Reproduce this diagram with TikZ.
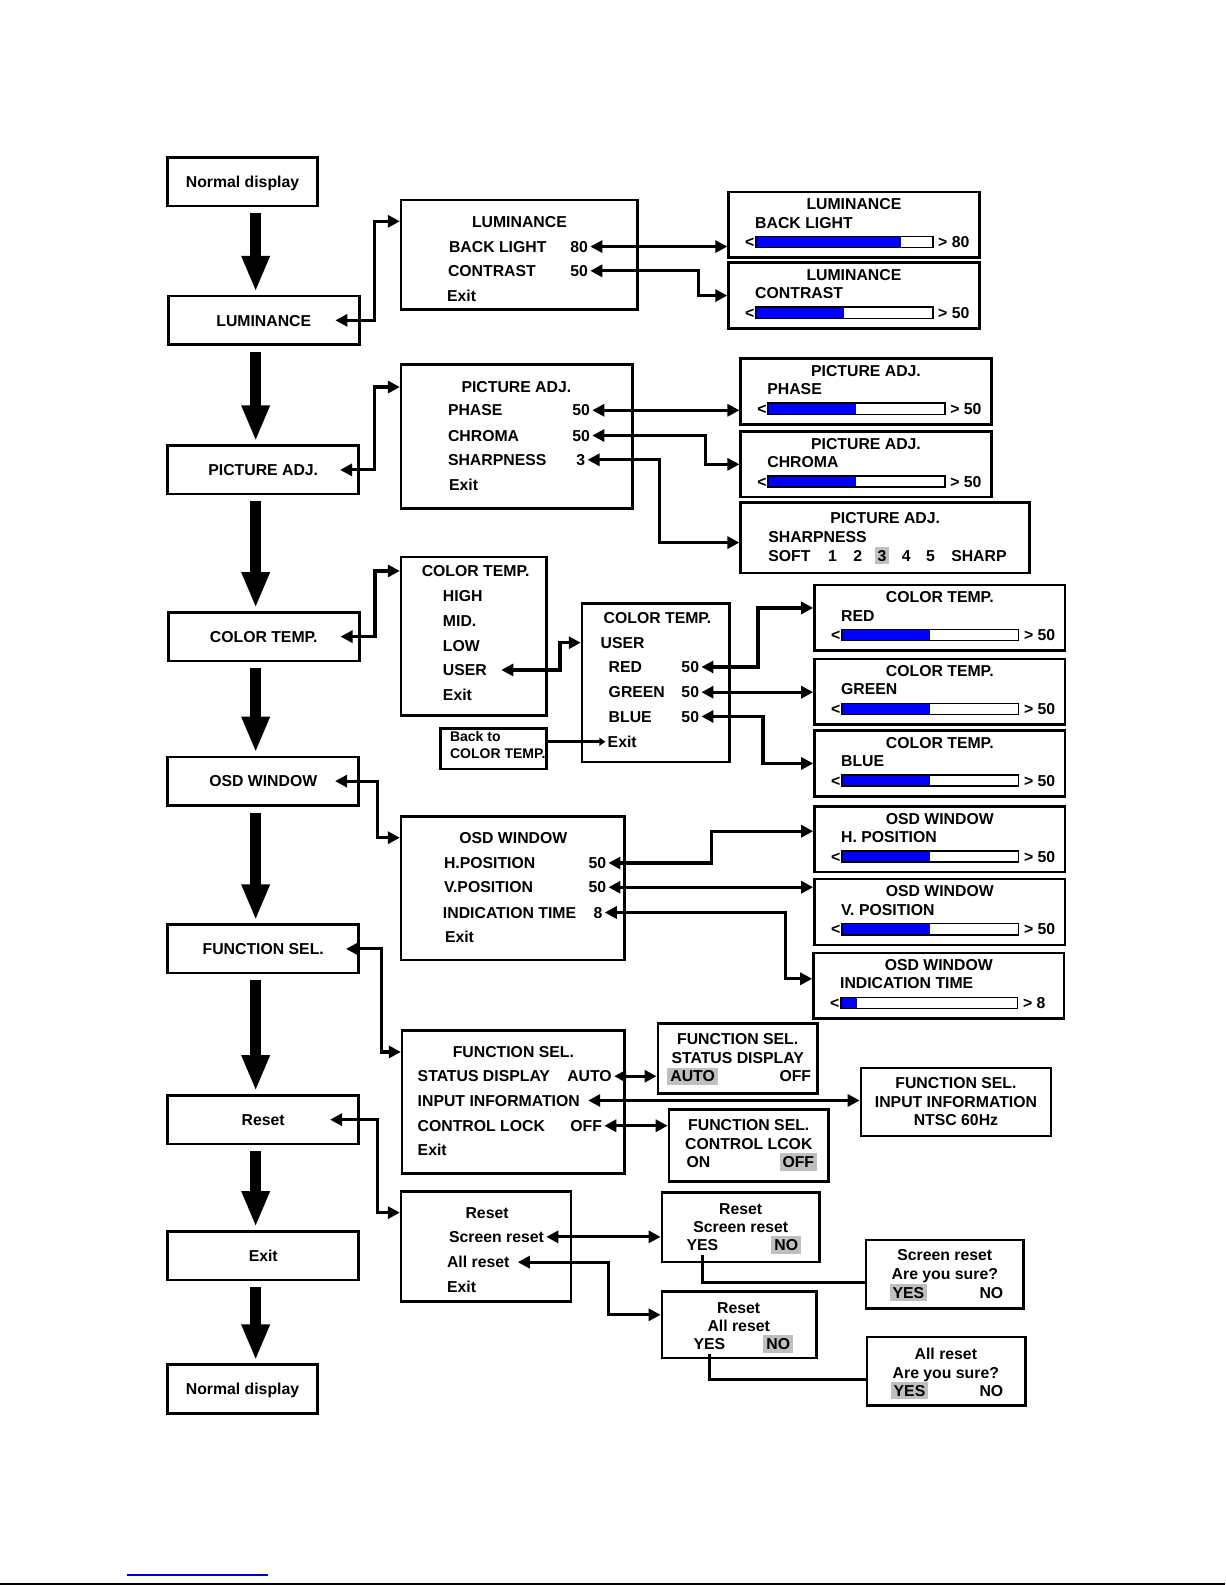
\documentclass[tikz,border=0pt]{standalone}
\usepackage{fontspec}
\setmainfont{Liberation Sans}
\usetikzlibrary{arrows.meta,positioning,fit}

\begin{document}
\begin{tikzpicture}[
    x=0.50525pt, y=-0.50525pt,
    every node/.style={font=\fontsize{7.9}{9}\selectfont\bfseries, inner sep=0pt, text height=5.7pt, text depth=0pt},
    mainbox/.style={rectangle, draw, line width=1.3pt, minimum width=95.5pt, minimum height=24.25pt},
    menubox/.style={rectangle, draw, line width=1.3pt},
    item/.style={anchor=west, inner xsep=1pt},
    hilite/.style={fill=black!25, inner xsep=1.5pt, inner ysep=1.5pt},
    small/.style={font=\fontsize{7}{8}\selectfont\bfseries, text height=5pt},
    dbl/.style={{Triangle[width=6pt,length=6pt]}-{Triangle[width=6pt,length=6pt]}, line width=1.6pt},
    link/.style={line width=1.6pt},
    bigarrow/.style={-{Triangle[width=13pt,length=18pt]}, line width=5.5pt},
    bar/.style={line width=0.8pt}
]
    \useasboundingbox (0,0) rectangle (1212.3,1568.5);

    % Main menu column
    \node[mainbox, minimum width=74.8pt] (mnorm) at (240,180) {Normal display};
    \node[mainbox] (mlum) at (261,317) {LUMINANCE};
    \node[mainbox] (mpic) at (260.5,465) {PICTURE ADJ.};
    \node[mainbox] (mcol) at (261,630) {COLOR TEMP.};
    \node[mainbox] (mosd) at (260.5,773) {OSD WINDOW};
    \node[mainbox] (mfun) at (260.5,939) {FUNCTION SEL.};
    \node[mainbox] (mrst) at (260.5,1108) {Reset};
    \node[mainbox] (mexit) at (260.5,1242.5) {Exit};
    \node[mainbox, minimum width=74.8pt] (mend) at (240,1374.5) {Normal display};

    \coordinate (spine) at (253,0);
    \foreach \a/\b in {mnorm/mlum, mlum/mpic, mpic/mcol, mcol/mosd, mosd/mfun, mfun/mrst, mrst/mexit, mexit/mend}
        \draw[bigarrow, shorten <=3pt, shorten >=1.5pt] (spine |- \a.south) -- (spine |- \b.north);

    % Slider windows
    \foreach \n/\bx/\by/\ttl/\lab/\fr/\val in {
        ls1/721/190/LUMINANCE/BACK LIGHT/0.82/80,
        ls2/721/260/LUMINANCE/CONTRAST/0.5/50,
        ps1/733/355/PICTURE ADJ./PHASE/0.5/50,
        ps2/733/427/PICTURE ADJ./CHROMA/0.5/50,
        cs1/806/579/COLOR TEMP./RED/0.5/50,
        cs2/806/652/COLOR TEMP./GREEN/0.5/50,
        cs3/806/723/COLOR TEMP./BLUE/0.5/50,
        os1/806/798/OSD WINDOW/H. POSITION/0.5/50,
        os2/806/870/OSD WINDOW/V. POSITION/0.5/50,
        os3/805/943/OSD WINDOW/INDICATION TIME/0.09/8}{
        \node[menubox, fit={(\bx,\by) (\bx+248,\by+65)}] (\n) {};
        \node (\n-t) at (\bx+124,\by+12) {\ttl};
        \node[item] (\n-l) at (\bx+24,\by+30) {\lab};
        \fill[blue] (\bx+27,\by+44) rectangle (\bx+27+175*\fr,\by+55);
        \draw[bar] (\bx+27,\by+44) rectangle (\bx+202,\by+55);
        \node[anchor=east] (\n-lt) at (\bx+26,\by+49.5) {<};
        \node[item] (\n-gt) at (\bx+205,\by+49.5) {> \val};
    }

    % LUMINANCE
    \node[menubox, fit={(397,198) (631,306)}] (lum) {};
    \node (lumt) at (514,219) {LUMINANCE};
    \node[item] (lumbl) at (442,244) {BACK LIGHT};
    \node[item] (lumblv) at (562,244) {80};
    \node[item] (lumct) at (441,268) {CONTRAST};
    \node[item] (lumctv) at (562,268) {50};
    \node[item] (lumex) at (440,293) {Exit};
    \draw[dbl] ([xshift=-12.6pt]mlum.east) -- ++(39,0) |- (lum.west |- lumt);
    \draw[dbl] (lumblv.east) -- (ls1.west |- lumblv.east);
    \draw[dbl] (lumctv.east) -- ++(107,0) |- (ls2.west);

    % PICTURE ADJ.
    \node[menubox, fit={(397,361) (626,503)}] (pic) {};
    \node (pict) at (511,383) {PICTURE ADJ.};
    \node[item] (picph) at (441,406) {PHASE};
    \node[item] (picphv) at (564,406) {50};
    \node[item] (picch) at (441,431) {CHROMA};
    \node[item] (picchv) at (564,431) {50};
    \node[item] (picsh) at (441,455) {SHARPNESS};
    \node[item] (picshv) at (568,455) {3};
    \node[item] (picex) at (442,480) {Exit};

    \node[menubox, fit={(733,497) (1019,567)}] (ps3) {};
    \node (ps3-t) at (876,512) {PICTURE ADJ.};
    \node[item] (ps3-l) at (758,531) {SHARPNESS};
    \node[item] (ps3-soft) at (758,550) {SOFT};
    \node[item] (ps3-1) at (817,550) {1};
    \node[item] (ps3-2) at (842,550) {2};
    \node[item, hilite] (ps3-3) at (865,550) {3};
    \node[item] (ps3-4) at (890,550) {4};
    \node[item] (ps3-5) at (914,550) {5};
    \node[item] (ps3-sharp) at (939,550) {SHARP};

    \draw[dbl] ([xshift=-10pt]mpic.east) -- ++(34,0) |- (pic.west |- pict);
    \draw[dbl] (picphv.east) -- (ps1.west |- picphv.east);
    \draw[dbl] (picchv.east) -- ++(112,0) |- (ps2.west);
    \draw[dbl] (picshv.east) -- ++(71,0) |- ([yshift=-2.5pt]ps3.west);

    % COLOR TEMP.
    \node[menubox, fit={(397,551) (541,708)}] (col) {};
    \node[item] (colt) at (415,565) {COLOR TEMP.};
    \node[item] (colhi) at (436,590) {HIGH};
    \node[item] (colmi) at (436,614) {MID.};
    \node[item] (collo) at (436,639) {LOW};
    \node[item] (colus) at (436,663) {USER};
    \node[item] (colex) at (436,688) {Exit};

    \node[menubox, fit={(576,597) (722,754)}] (usr) {};
    \node[item] (usrt) at (595,611) {COLOR TEMP.};
    \node[item] (usrus) at (592,636) {USER};
    \node[item] (usrrd) at (600,660) {RED};
    \node[item] (usrrdv) at (672,660) {50};
    \node[item] (usrgr) at (600,685) {GREEN};
    \node[item] (usrgrv) at (672,685) {50};
    \node[item] (usrbl) at (600,709) {BLUE};
    \node[item] (usrblv) at (672,709) {50};
    \node[item] (usrex) at (599,734) {Exit};

    \node[menubox, fit={(436,721) (541,761)}] (back) {};
    \node[item, small] (backa) at (443,729) {Back to};
    \node[item, small] (backb) at (443,746) {COLOR TEMP.};

    \draw[dbl] ([xshift=-10pt]mcol.east) -- ++(34,0) |- (col.west |- colt);
    \draw[dbl] ([xshift=6pt]colus.east) -- ++(58,0) |- (usr.west |- usrus);
    \draw[dbl] (usrrdv.east) -- ++(56,0) |- ([yshift=5pt]cs1.west);
    \draw[dbl] (usrgrv.east) -- (cs2.west |- usrgrv.east);
    \draw[dbl] (usrblv.east) -- ++(61,0) |- (cs3.west);
    \draw[link, -{Triangle[width=4pt,length=3pt]}] (back.east |- usrex) -- (usrex.west);

    % OSD WINDOW
    \node[menubox, fit={(397,808) (618,950)}] (osd) {};
    \node (osdt) at (508,829) {OSD WINDOW};
    \node[item] (osdh) at (437,854) {H.POSITION};
    \node[item] (osdhv) at (580,854) {50};
    \node[item] (osdv) at (437,878) {V.POSITION};
    \node[item] (osdvv) at (580,878) {50};
    \node[item] (osdi) at (436,903) {INDICATION TIME};
    \node[item] (osdiv) at (585,903) {8};
    \node[item] (osdex) at (438,927) {Exit};

    \draw[dbl] ([xshift=-12.5pt]mosd.east) -- ++(42,0) |- (osd.west |- osdt);
    \draw[dbl] (osdhv.east) -- ++(102,0) |- ([yshift=4pt]os1.west);
    \draw[dbl] (osdvv.east) -- (os2.west |- osdvv.east);
    \draw[dbl] (osdiv.east) -- ++(179,0) |- ([yshift=3.5pt]os3.west);

    % FUNCTION SEL.
    \node[menubox, fit={(398,1020) (618,1161)}] (fun) {};
    \node (funt) at (508,1041) {FUNCTION SEL.};
    \node[item] (funsd) at (411,1065) {STATUS DISPLAY};
    \node[item] (funsdv) at (559,1065) {AUTO};
    \node[item] (funii) at (411,1089) {INPUT INFORMATION};
    \node[item] (funcl) at (411,1114) {CONTROL LOCK};
    \node[item] (funclv) at (562,1114) {OFF};
    \node[item] (funex) at (411,1138) {Exit};

    \node[menubox, fit={(651,1013) (809,1082)}] (fs1) {};
    \node (fs1-t) at (730,1028) {FUNCTION SEL.};
    \node (fs1-l) at (730,1047) {STATUS DISPLAY};
    \node[item, hilite] (fs1-auto) at (660,1065) {AUTO};
    \node[item] (fs1-off) at (769,1065) {OFF};

    \node[menubox, fit={(852,1057) (1040,1124)}] (fs2) {};
    \node (fs2-t) at (946,1072) {FUNCTION SEL.};
    \node (fs2-l) at (946,1090) {INPUT INFORMATION};
    \node (fs2-v) at (946,1108) {NTSC 60Hz};

    \node[menubox, fit={(662,1098) (820,1169)}] (fs3) {};
    \node (fs3-t) at (741,1113) {FUNCTION SEL.};
    \node (fs3-l) at (741,1132) {CONTROL LCOK};
    \node[item] (fs3-on) at (677,1150) {ON};
    \node[item, hilite] (fs3-off) at (771,1150) {OFF};

    \draw[dbl] ([xshift=-7pt]mfun.east) -- ++(35,0) |- (fun.west |- funt);
    \draw[dbl] (funsdv.east) -- (fs1.west |- funsdv.east);
    \draw[dbl] ([xshift=3pt]funii.east) -- (fs2.west |- funii.east);
    \draw[dbl] (funclv.east) -- (fs3.west |- funclv.east);

    % Reset
    \node[menubox, fit={(397,1179) (565,1288)}] (rst) {};
    \node (rstt) at (482,1200) {Reset};
    \node[item] (rstsr) at (442,1224) {Screen reset};
    \node[item] (rstar) at (440,1249) {All reset};
    \node[item] (rstex) at (440,1273) {Exit};

    \node[menubox, fit={(655,1180) (811,1249)}] (rs1) {};
    \node (rs1-t) at (733,1196) {Reset};
    \node (rs1-l) at (733,1214) {Screen reset};
    \node[item] (rs1-yes) at (677,1232) {YES};
    \node[item, hilite] (rs1-no) at (763,1232) {NO};

    \node[menubox, fit={(655,1278) (808,1344)}] (rs2) {};
    \node (rs2-t) at (731,1294) {Reset};
    \node (rs2-l) at (731,1312) {All reset};
    \node[item] (rs2-yes) at (684,1330) {YES};
    \node[item, hilite] (rs2-no) at (755,1330) {NO};

    \node[menubox, fit={(857,1227) (1013,1295)}] (rs3) {};
    \node (rs3-t) at (935,1242) {Screen reset};
    \node (rs3-l) at (935,1261) {Are you sure?};
    \node[item, hilite] (rs3-yes) at (880,1279) {YES};
    \node[item] (rs3-no) at (967,1279) {NO};

    \node[menubox, fit={(858,1323) (1015,1391)}] (rs4) {};
    \node (rs4-t) at (936,1340) {All reset};
    \node (rs4-l) at (936,1358) {Are you sure?};
    \node[item, hilite] (rs4-yes) at (881,1376) {YES};
    \node[item] (rs4-no) at (967,1376) {NO};

    \draw[dbl] ([xshift=-15pt]mrst.east) -- ++(47,0) |- (rst.west |- rstt);
    \draw[dbl] (rstsr.east) -- (rs1.west |- rstsr.east);
    \draw[dbl] ([xshift=3pt]rstar.east) -- ++(90,0) |- ([yshift=5pt]rs2.west);
    \draw[link] ([yshift=-2pt]rs1-yes.south) |- ([yshift=-4pt]rs3.west);
    \draw[link] ([yshift=-2pt]rs2-yes.south) |- ([yshift=-4pt]rs4.west);

    % Page rules
    \draw[blue!80!black, line width=0.6pt] (125.7,1558.6) -- (265.2,1558.6);
    \draw[line width=1.2pt] (0,1567.2) -- (1212.3,1567.2);
\end{tikzpicture}
\end{document}
